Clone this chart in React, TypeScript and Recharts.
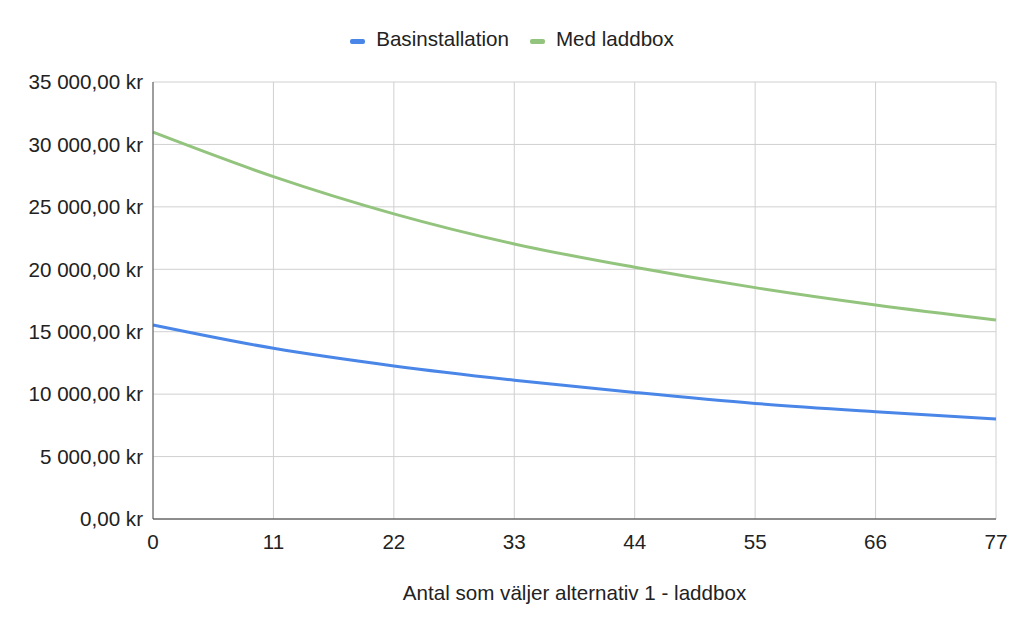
import React from 'react';
import { LineChart, Line, XAxis, YAxis, CartesianGrid, Legend } from 'recharts';

const antal = [0, 11, 22, 33, 44, 55, 66, 77];
const basinstallation = [15540, 13670, 12260, 11120, 10140, 9260, 8590, 8000];
const medLaddbox = [30980, 27420, 24440, 22030, 20160, 18530, 17140, 15940];
const yTicks = [0, 5000, 10000, 15000, 20000, 25000, 30000, 35000];

const BLUE = '#4a86e8';
const GREEN = '#93c47d';
const FONT = '"Liberation Sans", Arial, Helvetica, sans-serif';
const FS = 20.6;

const data = antal.map((n, i) => ({
  n,
  Basinstallation: basinstallation[i],
  'Med laddbox': medLaddbox[i],
}));

const formatKr = (v: number) => {
  const whole = Math.round(v)
    .toString()
    .replace(/\B(?=(\d{3})+(?!\d))/g, ' ');
  return `${whole},00 kr`;
};

const renderLegend = () => (
  <div
    style={{
      height: 82,
      paddingTop: 27,
      boxSizing: 'border-box',
      display: 'flex',
      justifyContent: 'center',
      alignItems: 'flex-start',
      fontFamily: FONT,
      fontSize: FS,
      color: '#222',
      lineHeight: '24px',
    }}
  >
    {[
      { name: 'Basinstallation', color: BLUE },
      { name: 'Med laddbox', color: GREEN },
    ].map((item, i) => (
      <div key={item.name} style={{ display: 'flex', alignItems: 'center', marginLeft: i ? 21 : 0 }}>
        <span
          style={{
            display: 'inline-block',
            width: 15,
            height: 5,
            borderRadius: 2,
            background: item.color,
            marginRight: 11,
            marginTop: 4,
          }}
        />
        <span>{item.name}</span>
      </div>
    ))}
  </div>
);

export default function App() {
  return (
    <div style={{ position: 'fixed', left: 0, top: 0, width: 1024, height: 631, background: '#fff' }}>
      <LineChart width={1024} height={631} data={data} margin={{ top: 0, right: 28, bottom: 0, left: 0 }}>
        <Legend verticalAlign="top" content={renderLegend} wrapperStyle={{ left: 0, top: 0, width: 1024 }} />
        <CartesianGrid stroke="#d0d0d0" strokeWidth={1} />
        <XAxis
          type="number"
          dataKey="n"
          domain={[0, 77]}
          ticks={antal}
          height={112}
          tickSize={0}
          tickMargin={15}
          tickLine={false}
          axisLine={{ stroke: '#333' }}
          tick={{ fill: '#222', fontSize: FS, fontFamily: FONT }}
          label={{
            value: 'Antal som väljer alternativ 1 - laddbox',
            position: 'insideBottom',
            offset: 31,
            fill: '#222',
            fontSize: FS,
            fontFamily: FONT,
          }}
        />
        <YAxis
          type="number"
          domain={[0, 35000]}
          ticks={yTicks}
          width={153}
          tickSize={0}
          tickMargin={10}
          tickLine={false}
          axisLine={{ stroke: '#555' }}
          tickFormatter={formatKr}
          tick={{ fill: '#222', fontSize: FS, fontFamily: FONT }}
        />
        <Line
          type="monotone"
          dataKey="Basinstallation"
          stroke={BLUE}
          strokeWidth={3}
          dot={false}
          isAnimationActive={false}
        />
        <Line
          type="monotone"
          dataKey="Med laddbox"
          stroke={GREEN}
          strokeWidth={3}
          dot={false}
          isAnimationActive={false}
        />
      </LineChart>
    </div>
  );
}
